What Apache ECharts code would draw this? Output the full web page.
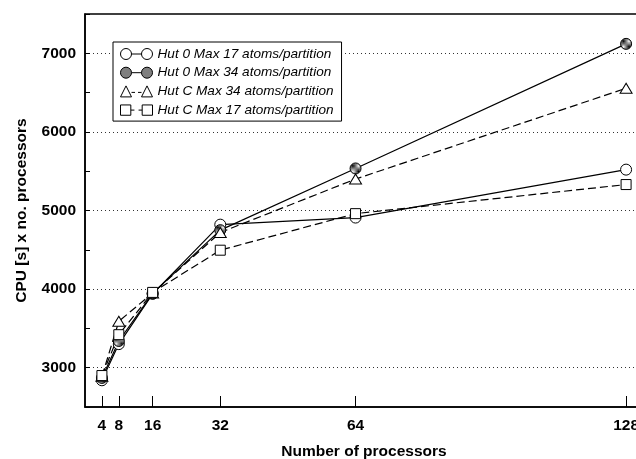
<!DOCTYPE html>
<html>
<head>
<meta charset="utf-8">
<script src="https://cdn.jsdelivr.net/npm/echarts@6/dist/echarts.min.js"></script>
<style>
	html, body { margin: 0; padding: 0; background: #fff; }
	#cpu { width: 636px; height: 459px; }
</style>
</head>
<body>
<div id="cpu"></div>
<script>
var procs = [4, 8, 16, 32, 64, 128];
var hut0Max17 = [2840, 3300, 3940, 4820, 4910, 5520];
var hut0Max34 = [2870, 3340, 3945, 4750, 5535, 7120];
var hutCMax34 = [2890, 3590, 3950, 4720, 5400, 6555];
var hutCMax17 = [2900, 3420, 3958, 4495, 4960, 5330];
var yLabels = [3000, 4000, 5000, 6000, 7000];
var names = ['Hut 0 Max 17 atoms/partition', 'Hut 0 Max 34 atoms/partition',
	'Hut C Max 34 atoms/partition', 'Hut C Max 17 atoms/partition'];

function pairs(ys){
	return procs.map(function(p, i){ return [p, ys[i]]; });
}

// checkered fill for the hatched circles
var cv = document.createElement('canvas');
cv.width = 2; cv.height = 2;
var cx = cv.getContext('2d');
cx.fillStyle = '#fff'; cx.fillRect(0, 0, 2, 2);
cx.fillStyle = '#000'; cx.fillRect(0, 0, 1, 1); cx.fillRect(1, 1, 1, 1);
var checker = {image: cv, repeat: 'repeat'};

var font = '"Liberation Sans", Arial, sans-serif';
var circleIcon = 'path://M0,5.5 A5.5,5.5 0 1 1 11,5.5 A5.5,5.5 0 1 1 0,5.5 Z M11,5.5 L21,5.5 M21,5.5 A5.5,5.5 0 1 1 32,5.5 A5.5,5.5 0 1 1 21,5.5 Z';
var triIcon = 'path://M5.5,0 L11,11 L0,11 Z M11,6.5 L14.5,6.5 M17.5,6.5 L21,6.5 M26.5,0 L32,11 L21,11 Z';
var rectIcon = 'path://M0.5,0.5 L10.5,0.5 L10.5,10.5 L0.5,10.5 Z M10.5,5.5 L14,5.5 M18,5.5 L21.5,5.5 M21.5,0.5 L31.5,0.5 L31.5,10.5 L21.5,10.5 Z';

var cpuChart = echarts.init(document.getElementById('cpu'), null, {renderer: 'canvas'});
var option = {
	animation: false,
	backgroundColor: '#fff',
	textStyle: {fontFamily: font, color: '#000'},
	grid: {
		left: 85, top: 14, width: 558, bottom: 52,
		outerBoundsMode: 'none',
		containLabel: false,
		show: true, borderColor: '#000', borderWidth: 1.5
	},
	legend: {
		orient: 'vertical',
		left: 113, top: 42,
		padding: [5, 8, 4, 7],
		itemGap: 4.7,
		itemWidth: 32, itemHeight: 11,
		backgroundColor: '#fff',
		borderColor: '#000', borderWidth: 1,
		textStyle: {fontFamily: font, fontStyle: 'italic', fontSize: 13.6, color: '#000'},
		data: [
			{name: names[0], icon: circleIcon, itemStyle: {color: '#fff', borderColor: '#000', borderWidth: 1}},
			{name: names[1], icon: circleIcon, itemStyle: {color: checker, borderColor: '#000', borderWidth: 1}},
			{name: names[2], icon: triIcon, itemStyle: {color: '#fff', borderColor: '#000', borderWidth: 1}},
			{name: names[3], icon: rectIcon, itemStyle: {color: '#fff', borderColor: '#000', borderWidth: 1}}
		]
	},
	xAxis: {
		type: 'value',
		min: 0, max: 132,
		name: 'Number of processors',
		nameLocation: 'middle',
		nameGap: 37,
		nameTextStyle: {fontFamily: font, fontWeight: 'bold', fontSize: 15.5, color: '#000'},
		axisLine: {lineStyle: {color: '#000', width: 1.5}},
		axisTick: {inside: true, length: 11, customValues: procs, lineStyle: {color: '#000', width: 1}},
		axisLabel: {customValues: procs, margin: 11, fontFamily: font, fontWeight: 'bold', fontSize: 15.5, color: '#000'},
		splitLine: {show: false}
	},
	yAxis: {
		type: 'value',
		min: 2500, max: 7500, interval: 500,
		name: 'CPU [s] x no. processors',
		nameLocation: 'middle',
		nameGap: 55,
		nameTextStyle: {fontFamily: font, fontWeight: 'bold', fontSize: 15.5, color: '#000'},
		axisLine: {show: true, lineStyle: {color: '#000', width: 1.5}},
		axisTick: {show: true, inside: true, length: 5, lineStyle: {color: '#000', width: 1}},
		axisLabel: {
			customValues: yLabels, margin: 9,
			formatter: function(v){ return String(v); },
			fontFamily: font, fontWeight: 'bold', fontSize: 15.5, color: '#000'
		},
		splitLine: {
			show: true,
			lineStyle: {color: ['rgba(0,0,0,0)', '#333'], width: 1, type: [1, 3]}
		}
	},
	series: [
		{
			name: names[0],
			type: 'line',
			data: pairs(hut0Max17),
			symbol: 'circle', symbolSize: 11,
			lineStyle: {color: '#000', width: 1.2, type: 'solid'},
			itemStyle: {color: '#fff', borderColor: '#000', borderWidth: 1}
		},
		{
			name: names[1],
			type: 'line',
			data: pairs(hut0Max34),
			symbol: 'circle', symbolSize: 11,
			lineStyle: {color: '#000', width: 1.2, type: 'solid'},
			itemStyle: {color: checker, borderColor: '#000', borderWidth: 1}
		},
		{
			name: names[2],
			type: 'line',
			data: pairs(hutCMax34),
			symbol: 'triangle', symbolSize: [12, 10],
			lineStyle: {color: '#000', width: 1.2, type: [8, 4]},
			itemStyle: {color: '#fff', borderColor: '#000', borderWidth: 1}
		},
		{
			name: names[3],
			type: 'line',
			data: pairs(hutCMax17),
			symbol: 'rect', symbolSize: 10,
			lineStyle: {color: '#000', width: 1.2, type: [8, 4]},
			itemStyle: {color: '#fff', borderColor: '#000', borderWidth: 1}
		}
	]
};
cpuChart.setOption(option);
</script>
</body>
</html>
